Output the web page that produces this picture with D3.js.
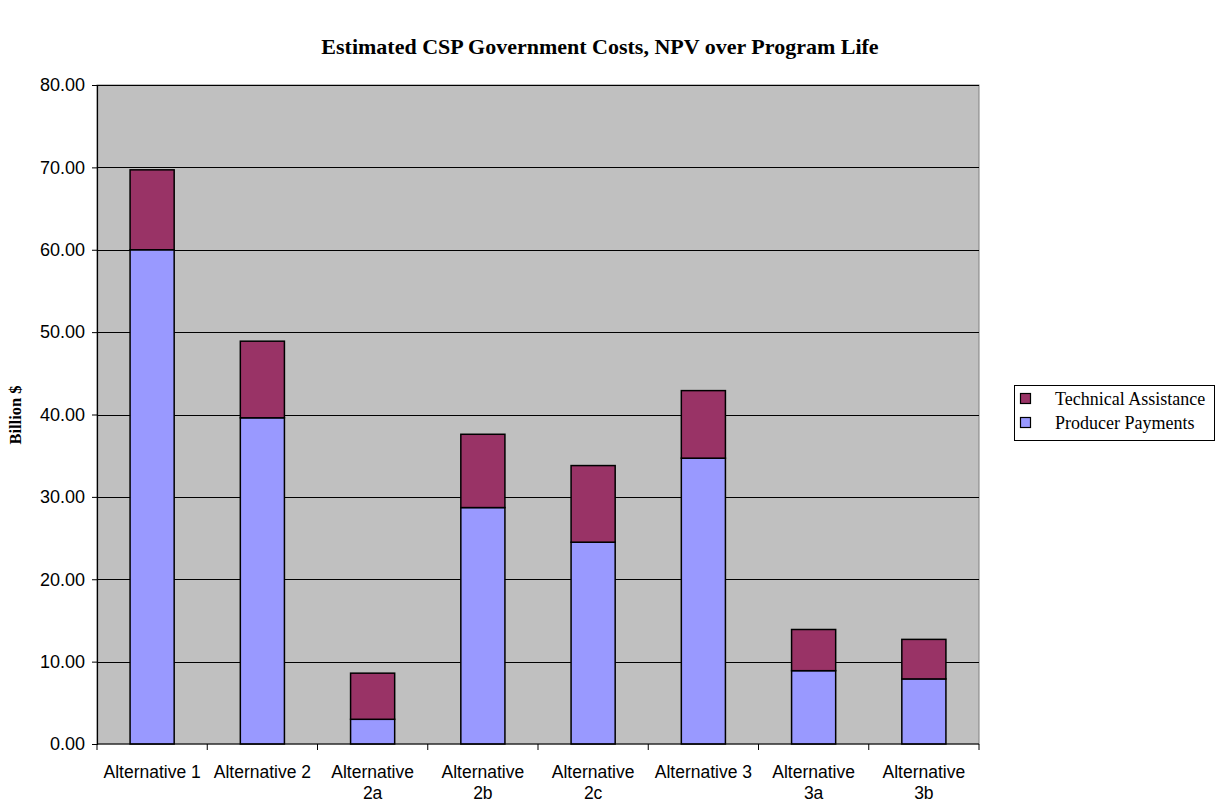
<!DOCTYPE html>
<html>
<head>
<meta charset="utf-8">
<script src="https://cdn.jsdelivr.net/npm/d3@7"></script>
<style>
  html, body { margin: 0; padding: 0; background: #ffffff; }
  svg { display: block; }
</style>
</head>
<body>
<svg id="chart" width="1217" height="803"></svg>
<script>
// Estimated CSP government costs (billion $, NPV over program life)
const categories = [
  ["Alternative 1"], ["Alternative 2"], ["Alternative", "2a"], ["Alternative", "2b"],
  ["Alternative", "2c"], ["Alternative 3"], ["Alternative", "3a"], ["Alternative", "3b"]
];
const producerPayments    = [60.0, 39.6, 3.0, 28.7, 24.5, 34.7, 8.9, 7.9];
const technicalAssistance = [9.7, 9.3, 5.6, 8.9, 9.3, 8.2, 5.0, 4.8];
const yTicks = [0, 10, 20, 30, 40, 50, 60, 70, 80];
const seriesNames = ["Producer Payments", "Technical Assistance"];
const seriesColors = ["#9999FF", "#993366"];

const svg = d3.select("#chart");
const plot = { left: 97, right: 979, top: 85, bottom: 744 };

const keys = categories.map((c, i) => "c" + i);
const x = d3.scaleBand().domain(keys).range([plot.left, plot.right]).paddingInner(0.6).paddingOuter(0.3);
const xBound = d3.scaleBand().domain(keys).range([plot.left, plot.right]);
const y = d3.scaleLinear().domain([0, 80]).range([plot.bottom, plot.top]);

// Plot background
svg.append("rect")
  .attr("x", plot.left).attr("y", plot.top)
  .attr("width", plot.right - plot.left).attr("height", plot.bottom - plot.top)
  .attr("fill", "#C0C0C0").attr("stroke", "#808080").attr("stroke-width", 1);

// Gridlines
svg.append("g").selectAll("line").data(yTicks.filter(t => t > 0)).join("line")
  .attr("x1", plot.left).attr("x2", plot.right)
  .attr("y1", d => Math.round(y(d)) + 0.5).attr("y2", d => Math.round(y(d)) + 0.5)
  .attr("stroke", "#000").attr("stroke-width", 1);

// Stacked bars
const rows = categories.map((c, i) => ({ key: keys[i], pp: producerPayments[i], ta: technicalAssistance[i] }));
const stack = d3.stack().keys(["pp", "ta"])(rows);
stack.forEach((layer, li) => {
  svg.append("g").selectAll("rect").data(layer).join("rect")
    .attr("x", d => x(d.data.key))
    .attr("width", x.bandwidth())
    .attr("y", d => y(d[1]))
    .attr("height", d => y(d[0]) - y(d[1]))
    .attr("fill", seriesColors[li])
    .attr("stroke", "#000").attr("stroke-width", 1.5);
});

// Y axis
const yAxis = d3.axisLeft(y).tickValues(yTicks).tickFormat(d3.format(".2f")).tickSize(5).tickPadding(7);
const yg = svg.append("g").attr("transform", `translate(${plot.left},0)`).call(yAxis);
yg.select(".domain").attr("stroke", "#000").attr("stroke-width", 1.2);
yg.selectAll(".tick line").attr("stroke", "#000");
yg.selectAll(".tick text").attr("font-family", "Liberation Sans, Arial, sans-serif").attr("font-size", 18).attr("fill", "#000");

// X axis: baseline and boundary ticks
svg.append("line").attr("x1", plot.left).attr("x2", plot.right)
  .attr("y1", plot.bottom).attr("y2", plot.bottom).attr("stroke", "#000").attr("stroke-width", 1.2);
const bounds = keys.map(k => xBound(k)).concat([plot.right]);
svg.append("g").selectAll("line").data(bounds).join("line")
  .attr("x1", d => d).attr("x2", d => d)
  .attr("y1", plot.bottom).attr("y2", plot.bottom + 6)
  .attr("stroke", "#000");

// Category labels (wrapped in two lines where needed)
const xl = svg.append("g").attr("font-family", "Liberation Sans, Arial, sans-serif")
  .attr("font-size", 17.5).attr("text-anchor", "middle").attr("fill", "#000");
categories.forEach((lines, i) => {
  const cx = xBound(keys[i]) + xBound.bandwidth() / 2;
  const t = xl.append("text").attr("x", cx).attr("y", 778);
  lines.forEach((ln, j) => t.append("tspan").attr("x", cx).attr("dy", j === 0 ? 0 : 21).text(ln));
});

// Title
svg.append("text").attr("x", 600).attr("y", 54).attr("text-anchor", "middle")
  .attr("font-family", "Liberation Serif, Times New Roman, serif").attr("font-weight", "bold").attr("font-size", 22)
  .text("Estimated CSP Government Costs, NPV over Program Life");

// Y axis title
svg.append("text").attr("transform", "translate(21,415) rotate(-90)").attr("text-anchor", "middle")
  .attr("font-family", "Liberation Serif, Times New Roman, serif").attr("font-weight", "bold").attr("font-size", 16.5)
  .text("Billion $");

// Legend
const legend = svg.append("g");
legend.append("rect").attr("x", 1014.5).attr("y", 385.5).attr("width", 200).attr("height", 55)
  .attr("fill", "#fff").attr("stroke", "#000");
const legendItems = [1, 0];
legendItems.forEach((si, j) => {
  const ly = 399 + j * 24;
  legend.append("rect").attr("x", 1020.5).attr("y", ly - 5.5).attr("width", 10).attr("height", 10)
    .attr("fill", seriesColors[si]).attr("stroke", "#000").attr("stroke-width", 1.2);
  legend.append("text").attr("x", 1055).attr("y", ly + 6)
    .attr("font-family", "Liberation Serif, Times New Roman, serif").attr("font-size", 18)
    .text(seriesNames[si]);
});
</script>
</body>
</html>
